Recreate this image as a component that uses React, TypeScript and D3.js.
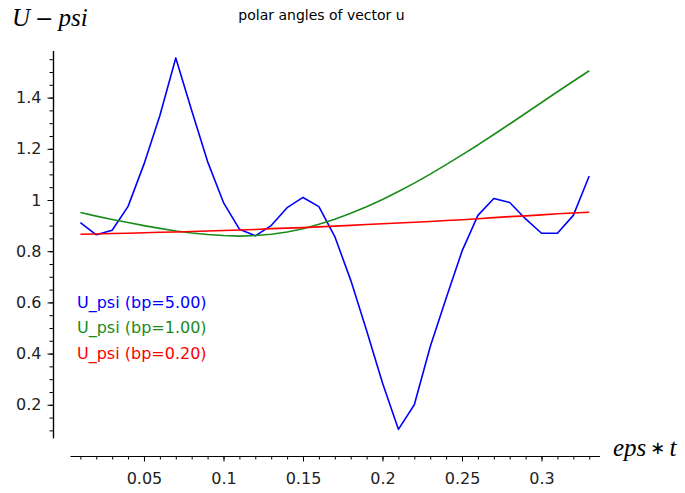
import React, { useRef, useEffect } from 'react'
import * as d3 from 'd3'

// eps*t sample points
const epsT = [
  0.01, 0.02, 0.03, 0.04, 0.05, 0.06, 0.07, 0.08, 0.09, 0.1, 0.11,
  0.12, 0.13, 0.14, 0.15, 0.16, 0.17, 0.18, 0.19, 0.2, 0.21, 0.22,
  0.23, 0.24, 0.25, 0.26, 0.27, 0.28, 0.29, 0.3, 0.31, 0.32, 0.33,
]

// U_psi, bp = 5.00
const psiBp5 = [
  0.912, 0.864, 0.882, 0.975, 1.14, 1.33, 1.555, 1.35, 1.15, 0.99, 0.886,
  0.86, 0.9, 0.97, 1.01, 0.974, 0.857, 0.687, 0.49, 0.285, 0.104, 0.2,
  0.427, 0.616, 0.8, 0.94, 1.006, 0.99, 0.926, 0.87, 0.87, 0.94, 1.094,
]

// U_psi, bp = 1.00
const psiBp1 = [
  0.951, 0.937, 0.924, 0.912, 0.9, 0.889, 0.879, 0.871, 0.865, 0.861, 0.859,
  0.861, 0.866, 0.875, 0.888, 0.905, 0.925, 0.948, 0.974, 1.002, 1.033, 1.066,
  1.101, 1.138, 1.176, 1.215, 1.256, 1.297, 1.339, 1.381, 1.423, 1.464, 1.505,
]

// U_psi, bp = 0.20
const psiBp02 = [
  0.866, 0.867, 0.869, 0.87, 0.872, 0.874, 0.875, 0.877, 0.879, 0.881, 0.883,
  0.885, 0.888, 0.89, 0.892, 0.895, 0.898, 0.901, 0.904, 0.907, 0.91, 0.913,
  0.916, 0.92, 0.923, 0.927, 0.931, 0.935, 0.938, 0.942, 0.946, 0.949, 0.952,
]

const seriesNames = ['U_psi (bp=5.00)', 'U_psi (bp=1.00)', 'U_psi (bp=0.20)']
const seriesColors = ['#0000ff', '#1a8c1a', '#ff0000']

const xTicks = [0.05, 0.1, 0.15, 0.2, 0.25, 0.3]
const yTicks = [0.2, 0.4, 0.6, 0.8, 1, 1.2, 1.4]

export default function App() {
  const ref = useRef<SVGSVGElement>(null)
  const width = 685
  const height = 493

  useEffect(() => {
    const svg = d3.select(ref.current)
    svg.selectAll('*').remove()

    const font = 'DejaVu Sans, sans-serif'

    // x scale
    const x = d3.scaleLinear().domain([0.0036, 0.3364]).range([70.2, 599.4])
    // y scale
    const y = d3.scaleLinear().domain([0.071, 1.584]).range([437.8, 50.5])

    const xAxisY = 456
    const yAxisX = 53

    // minor ticks (no labels) then major ticks, each in its own group
    svg
      .append('g')
      .attr('class', 'minor')
      .attr('transform', `translate(0,${xAxisY})`)
      .call(
        d3
          .axisBottom(x)
          .tickValues(d3.range(0.01, 0.335, 0.01))
          .tickSize(3.5)
          .tickSizeOuter(0)
          .tickFormat(() => '')
      )
    svg
      .append('g')
      .attr('class', 'major')
      .attr('transform', `translate(0,${xAxisY})`)
      .call(
        d3
          .axisBottom(x)
          .tickValues(xTicks)
          .tickSize(5.5)
          .tickSizeOuter(0)
          .tickPadding(11)
          .tickFormat((d) => String(+d))
      )

    svg
      .append('g')
      .attr('class', 'minor')
      .attr('transform', `translate(${yAxisX},0)`)
      .call(
        d3
          .axisLeft(y)
          .tickValues(d3.range(0.1, 1.58, 0.05))
          .tickSize(3.5)
          .tickSizeOuter(0)
          .tickFormat(() => '')
      )
    svg
      .append('g')
      .attr('class', 'major')
      .attr('transform', `translate(${yAxisX},0)`)
      .call(
        d3
          .axisLeft(y)
          .tickValues(yTicks)
          .tickSize(5.5)
          .tickSizeOuter(0)
          .tickPadding(6)
          .tickFormat((d) => String(+d))
      )

    svg.selectAll('.domain').attr('stroke', '#000').attr('stroke-width', 1.2)
    svg.selectAll('.tick line').attr('stroke', '#000').attr('stroke-width', 1)
    svg
      .selectAll('.tick text')
      .attr('font-family', font)
      .attr('font-size', 16)
      .attr('fill', '#222')

    // Draw lines
    const allSeries = [psiBp5, psiBp1, psiBp02]
    const line = d3
      .line<number>()
      .x((d, i) => x(epsT[i]))
      .y((d) => y(d))

    allSeries.forEach((vals, k) => {
      svg
        .append('path')
        .datum(vals)
        .attr('fill', 'none')
        .attr('stroke', seriesColors[k])
        .attr('stroke-width', 1.6)
        .attr('stroke-linejoin', 'round')
        .attr('d', line)
    })

    // legend
    svg
      .append('g')
      .selectAll('text')
      .data(seriesNames)
      .join('text')
      .attr('x', 77)
      .attr('y', (d, i) => 307.5 + i * 25.5)
      .attr('font-family', font)
      .attr('font-size', 16)
      .attr('fill', (d, i) => seriesColors[i])
      .text((d) => d)

    // title
    svg
      .append('text')
      .attr('x', 321.5)
      .attr('y', 20)
      .attr('text-anchor', 'middle')
      .attr('font-family', font)
      .attr('font-size', 14)
      .attr('fill', '#000')
      .text('polar angles of vector u')

    // axis labels (math style)
    const serif = 'Liberation Serif, serif'
    const yl = svg
      .append('text')
      .attr('x', 12)
      .attr('y', 26)
      .attr('font-family', serif)
      .attr('font-size', 25)
      .attr('fill', '#000')
    yl.append('tspan').attr('font-style', 'italic').text('U')
    yl.append('tspan').attr('dx', 5).attr('font-family', font).attr('font-size', 22).text('−')
    yl.append('tspan').attr('dx', 5).attr('font-style', 'italic').text('psi')

    const xl = svg
      .append('text')
      .attr('x', 613)
      .attr('y', 456)
      .attr('font-family', serif)
      .attr('font-size', 25)
      .attr('fill', '#000')
    xl.append('tspan').attr('font-style', 'italic').text('eps')
    xl.append('tspan').attr('dx', 4).attr('font-family', font).attr('font-size', 18).attr('dy', -2).text('∗')
    xl.append('tspan').attr('dx', 4).attr('dy', 2).attr('font-style', 'italic').text('t')
  }, [])

  return (
    <svg
      ref={ref}
      width={width}
      height={height}
      style={{ position: 'absolute', left: 0, top: 0, background: '#fff' }}
    ></svg>
  )
}
